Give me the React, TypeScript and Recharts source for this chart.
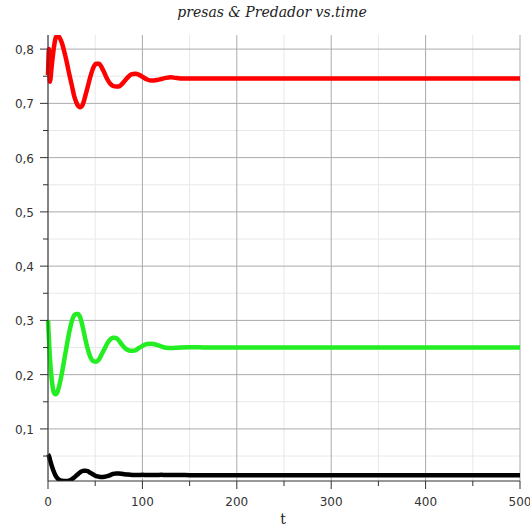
import { LineChart, Line, XAxis, YAxis, CartesianGrid } from 'recharts'

// time samples (denser where the oscillations are)
const times = [
  0, 1, 2, 4, 6, 8, 10, 12, 15, 18, 20, 22, 25, 28, 30, 32, 34, 36, 38, 40, 42,
  45, 48, 51, 54, 57, 60, 63, 66, 69, 72, 75, 78, 81, 84, 87, 90, 93, 96, 100,
  105, 110, 115, 120, 125, 130, 135, 140, 150, 160, 170, 180, 200, 250, 300,
  350, 400, 450, 500,
]

const presas = [
  0.752, 0.8, 0.74, 0.77, 0.8, 0.82, 0.825, 0.822, 0.81, 0.79, 0.775, 0.758,
  0.735, 0.712, 0.702, 0.695, 0.693, 0.695, 0.704, 0.717, 0.73, 0.75, 0.766,
  0.773, 0.773, 0.766, 0.755, 0.744, 0.736, 0.732, 0.731, 0.731, 0.735, 0.741,
  0.747, 0.752, 0.754, 0.7545, 0.753, 0.749, 0.744, 0.742, 0.743, 0.745, 0.747,
  0.748, 0.747, 0.746, 0.746, 0.746, 0.746, 0.746, 0.746, 0.746, 0.746, 0.746,
  0.746, 0.746, 0.746,
]

const predador = [
  0.3, 0.265, 0.232, 0.19, 0.168, 0.164, 0.168, 0.18, 0.205, 0.235, 0.255,
  0.274, 0.297, 0.31, 0.312, 0.312, 0.306, 0.294, 0.278, 0.262, 0.248, 0.232,
  0.225, 0.224, 0.228, 0.238, 0.248, 0.258, 0.265, 0.268, 0.2675, 0.263, 0.256,
  0.25, 0.246, 0.244, 0.244, 0.245, 0.249, 0.253, 0.2565, 0.257, 0.255, 0.252,
  0.2495, 0.249, 0.2495, 0.25, 0.2505, 0.2505, 0.25, 0.25, 0.25, 0.25, 0.25,
  0.25, 0.25, 0.25, 0.25,
]

const tercera = [
  0.053, 0.05, 0.044, 0.032, 0.022, 0.014, 0.009, 0.006, 0.0045, 0.004, 0.004,
  0.0045, 0.007, 0.011, 0.014, 0.017, 0.02, 0.022, 0.0228, 0.0228, 0.022, 0.019,
  0.016, 0.013, 0.012, 0.0116, 0.012, 0.013, 0.015, 0.017, 0.018, 0.0178,
  0.0172, 0.0165, 0.016, 0.0155, 0.0152, 0.015, 0.015, 0.0155, 0.015, 0.015,
  0.015, 0.0155, 0.015, 0.015, 0.015, 0.015, 0.0148, 0.0148, 0.0148, 0.0148,
  0.0148, 0.0148, 0.0148, 0.0148, 0.0148, 0.0148, 0.0148,
]

const xMajor = [0, 100, 200, 300, 400, 500]
const xMinor = [50, 150, 250, 350, 450]
const yMajor = [0.1, 0.2, 0.3, 0.4, 0.5, 0.6, 0.7, 0.8]
const yMinor = [0.05, 0.15, 0.25, 0.35, 0.45, 0.55, 0.65, 0.75]

const data = times.map((t, i) => ({
  t,
  presas: presas[i],
  predador: predador[i],
  tercera: tercera[i],
}))

const tickFont = { fontFamily: 'DejaVu Sans, sans-serif', fontSize: 12, fill: '#333' }

const fmt = (v: number) => v.toFixed(1).replace('.', ',')

const isMajor = (list: number[], v: number) =>
  list.some((m) => Math.abs(m - v) < 1e-9)

function YTick(props: any) {
  const { x, y, payload } = props
  const major = isMajor(yMajor, payload.value)
  return (
    <g>
      <line x1={x - (major ? 8 : 5)} x2={x} y1={y} y2={y} stroke="#333" />
      {major && (
        <text x={x - 14} y={y + 5} textAnchor="end" {...tickFont}>
          {fmt(payload.value)}
        </text>
      )}
    </g>
  )
}

function XTick(props: any) {
  const { x, y, payload } = props
  const major = isMajor(xMajor, payload.value)
  return (
    <g>
      <line x1={x} x2={x} y1={y} y2={y + (major ? 8 : 5)} stroke="#333" />
      {major && (
        <text x={x} y={y + 25} textAnchor="middle" {...tickFont}>
          {payload.value}
        </text>
      )}
    </g>
  )
}

export default function App() {
  return (
    <div style={{ position: 'absolute', left: 0, top: 0, width: 530, height: 529, background: '#fff' }}>
      <LineChart
        width={530}
        height={529}
        data={data}
        margin={{ top: 35, right: 10, bottom: 18, left: 8 }}
      >
        <CartesianGrid stroke="#e8e8e8" horizontalValues={yMinor} verticalValues={xMinor} />
        <CartesianGrid stroke="#ababab" horizontalValues={yMajor} verticalValues={xMajor} />
        <XAxis
          dataKey="t"
          type="number"
          domain={[0, 500]}
          ticks={[...xMajor, ...xMinor].sort((a, b) => a - b)}
          tick={<XTick />}
          tickLine={false}
          tickSize={0}
          tickMargin={0}
          height={30}
          interval={0}
          axisLine={{ stroke: '#333' }}
        />
        <YAxis
          type="number"
          domain={[0.004, 0.826]}
          ticks={[...yMajor, ...yMinor].sort((a, b) => a - b)}
          tick={<YTick />}
          tickLine={false}
          tickSize={0}
          tickMargin={0}
          width={40}
          interval={0}
          axisLine={{ stroke: '#333' }}
          allowDataOverflow
        />
        <Line type="monotone" dataKey="presas" stroke="#ff0000" strokeWidth={4.5} dot={false} isAnimationActive={false} />
        <Line type="monotone" dataKey="predador" stroke="#22ee22" strokeWidth={4.5} dot={false} isAnimationActive={false} />
        <Line type="monotone" dataKey="tercera" stroke="#000000" strokeWidth={4.5} dot={false} isAnimationActive={false} />
        <text
          x={272}
          y={17}
          textAnchor="middle"
          style={{ fontFamily: 'DejaVu Serif, serif', fontStyle: 'italic', fontSize: 14, fill: '#222' }}
        >
          presas &amp; Predador vs.time
        </text>
        <text
          x={283}
          y={524}
          textAnchor="middle"
          style={{ fontFamily: 'DejaVu Serif, serif', fontSize: 14, fill: '#222' }}
        >
          t
        </text>
      </LineChart>
    </div>
  )
}
